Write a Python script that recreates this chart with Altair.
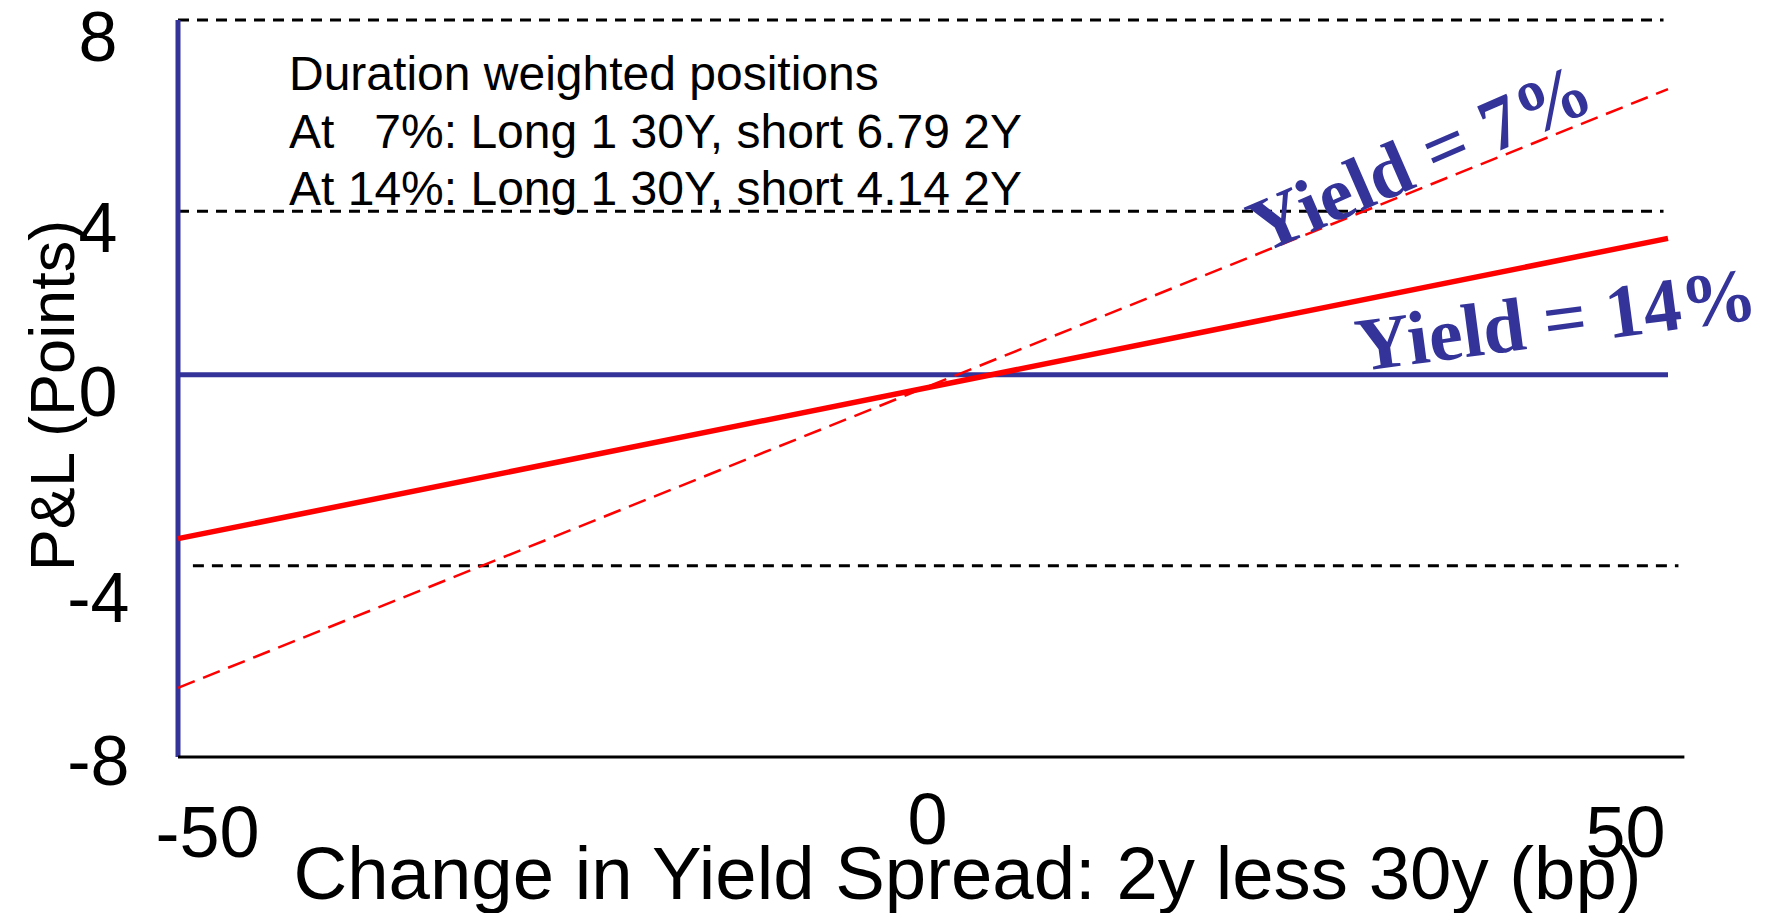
import altair as alt
import pandas as pd

# ---- values ----
x_ends = [-50, 50]
pl_yield_14 = [-3.26, 3.26]
pl_yield_7 = [-6.5, 6.5]

grid_y = [8, 3.85, -3.85]
grid_x_start = [-50, -50, -49]
grid_x_end = [49.7, 49.7, 50.7]

zero_line_y = [0.3]
x_axis_end = [51.1]

x_ticks = [-50, 0, 50]
y_ticks = [8, 4, 0, -4, -8]

note_lines = [
    "Duration weighted positions",
    "At\u00a0\u00a0\u00a07%: Long 1 30Y, short 6.79 2Y",
    "At 14%: Long 1 30Y, short 4.14 2Y",
]
label_texts = ["Yield = 7%", "Yield = 14%"]
label_x = [33.4, 42.5]
label_y = [4.96, 1.44]

BLUE = "#333399"
RED = "#FF0000"
SANS = "Liberation Sans"
SERIF = "Liberation Serif"

xs = alt.Scale(domain=[-50, 50], nice=False, zero=False)
ys = alt.Scale(domain=[-8, 8], nice=False, zero=False)

x_axis = alt.Axis(
    values=x_ticks, title="Change in Yield Spread: 2y less 30y (bp)",
    labelExpr="'' + datum.value",
    domain=False, ticks=False, tickSize=0, grid=False,
    labelFont=SANS, labelFontSize=72, labelColor="black",
    labelBaseline="alphabetic", labelFlush=False, labelOverlap=False,
    labelPadding={"condition": {"test": "datum.value == 0", "value": 86}, "value": 99},
    labelOffset={"condition": [{"test": "datum.value < 0", "value": 29},
                               {"test": "datum.value > 0", "value": -43}],
                 "value": 4},
    titleFont=SANS, titleFontSize=74.4, titleFontWeight="normal", titleColor="black",
    titleX=789, titleY=141, titleAlign="center", titleBaseline="alphabetic",
)
y_axis = alt.Axis(
    values=y_ticks, title="P&L (Points)",
    labelExpr="'' + datum.value",
    domain=False, ticks=False, tickSize=0, grid=False,
    labelFont=SANS, labelFontSize=70, labelColor="black",
    labelAlign="right", labelBaseline="middle", labelOverlap=False, labelFlush=False,
    labelPadding={"condition": {"test": "datum.value < 0", "value": 49}, "value": 61},
    labelOffset={"condition": [{"test": "datum.value == 8", "value": 19},
                               {"test": "datum.value == 4", "value": 26},
                               {"test": "datum.value == 0", "value": 6},
                               {"test": "datum.value == -4", "value": 28}],
                 "value": 6},
    titleFont=SANS, titleFontSize=63, titleFontWeight="normal", titleColor="black",
    titleAngle=270, titleX=-105, titleY=375, titleAlign="center", titleBaseline="alphabetic",
)


def X(field):
    return alt.X(field, type="quantitative", scale=xs, axis=x_axis)


def Y(field):
    return alt.Y(field, type="quantitative", scale=ys, axis=y_axis)


grid_df = pd.DataFrame({"y": grid_y, "x0": grid_x_start, "x1": grid_x_end})
grid = alt.Chart(grid_df).mark_rule(color="black", strokeWidth=3, strokeDash=[11, 8]).encode(
    x=X("x0"), x2="x1", y=Y("y")
)

zero_df = pd.DataFrame({"y": zero_line_y, "x0": [x_ends[0]], "x1": [x_ends[1]]})
zero_line = alt.Chart(zero_df).mark_rule(color=BLUE, strokeWidth=5).encode(
    x=X("x0"), x2="x1", y=Y("y")
)

vaxis_df = pd.DataFrame({"x": [x_ends[0]], "y0": [-8], "y1": [8]})
vaxis = alt.Chart(vaxis_df).mark_rule(color=BLUE, strokeWidth=5).encode(
    x=X("x"), y=Y("y0"), y2="y1"
)

haxis_df = pd.DataFrame({"y": [-8], "x0": [x_ends[0]], "x1": x_axis_end})
haxis = alt.Chart(haxis_df).mark_rule(color="black", strokeWidth=3).encode(
    x=X("x0"), x2="x1", y=Y("y")
)

d7 = pd.DataFrame({"x": x_ends, "pl": pl_yield_7})
d14 = pd.DataFrame({"x": x_ends, "pl": pl_yield_14})
line7 = alt.Chart(d7).mark_line(color=RED, strokeWidth=2.5, strokeDash=[18, 9]).encode(
    x=X("x"), y=Y("pl")
)
line14 = alt.Chart(d14).mark_line(color=RED, strokeWidth=5.5).encode(
    x=X("x"), y=Y("pl")
)

note_df = pd.DataFrame({"x": [-42.55], "y": [6.48]})
note = alt.Chart(note_df).mark_text(
    text=note_lines, font=SANS, fontSize=48, color="black",
    align="left", baseline="alphabetic", lineHeight=57.5,
).encode(x=X("x"), y=Y("y"))

lab7 = alt.Chart(pd.DataFrame({"x": [label_x[0]], "y": [label_y[0]]})).mark_text(
    text=label_texts[0], font=SERIF, fontWeight="bold", fontSize=76, color=BLUE,
    align="center", baseline="middle", angle=336.5,
).encode(x=X("x"), y=Y("y"))
lab14 = alt.Chart(pd.DataFrame({"x": [label_x[1]], "y": [label_y[1]]})).mark_text(
    text=label_texts[1], font=SERIF, fontWeight="bold", fontSize=76, color=BLUE,
    align="center", baseline="middle", angle=352.5,
).encode(x=X("x"), y=Y("y"))

chart = alt.layer(
    grid, zero_line, vaxis, haxis, line7, line14, note, lab7, lab14
).properties(
    width=1490, height=737,
    autosize=alt.AutoSizeParams(type="none"),
    padding={"left": 170, "top": 12, "right": 94, "bottom": 156},
    background="white",
).configure_view(stroke=None)

chart.save("out.html", embed_options={"renderer": "svg", "actions": False})
